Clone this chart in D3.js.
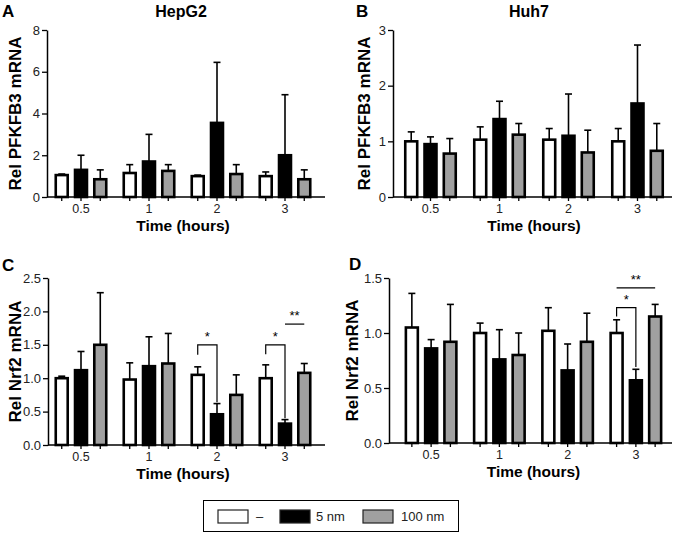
<!DOCTYPE html>
<html><head><meta charset="utf-8">
<script src="https://cdn.jsdelivr.net/npm/d3@7"></script>
<style>body{margin:0;background:#fff}svg{display:block}text{font-family:"Liberation Sans",Arial,sans-serif}</style>
</head><body><svg id="c" width="673" height="533"></svg>
<script>
const groups = ["0.5","1","2","3"];
const seriesNames = ["–","5 nm","100 nm"];
const seriesColors = ["#ffffff","#000000","#a0a0a0"];
// means [group][series]
const hepg2Mean = [[1.05,1.3,0.85],[1.15,1.7,1.25],[1.0,3.55,1.1],[1.0,2.0,0.85]];
const hepg2Upper = [[1.1,2.0,1.3],[1.55,3.0,1.55],[1.05,6.45,1.55],[1.2,4.9,1.3]];
const huh7Mean = [[1.0,0.95,0.78],[1.03,1.4,1.12],[1.03,1.1,0.8],[1.0,1.68,0.83]];
const huh7Upper = [[1.17,1.08,1.05],[1.26,1.72,1.32],[1.23,1.85,1.2],[1.23,2.73,1.32]];
const nrf2HepMean = [[1.0,1.12,1.5],[0.98,1.18,1.22],[1.05,0.46,0.75],[1.0,0.32,1.08]];
const nrf2HepUpper = [[1.03,1.4,2.28],[1.23,1.62,1.67],[1.17,0.62,1.05],[1.2,0.38,1.22]];
const nrf2HuhMean = [[1.05,0.86,0.92],[1.0,0.76,0.8],[1.02,0.66,0.92],[1.0,0.57,1.15]];
const nrf2HuhUpper = [[1.36,0.94,1.26],[1.09,1.03,1.0],[1.23,0.9,1.18],[1.12,0.67,1.26]];
const ticksA = [0,2,4,6,8];
const ticksB = [0,1,2,3];
const ticksC = [0,0.5,1.0,1.5,2.0,2.5];
const ticksD = [0,0.5,1.0,1.5];

const svg = d3.select("#c");

const panels = [
  {letter:"A", title:"HepG2", ylab:"Rel PFKFB3 mRNA", mean:hepg2Mean, upper:hepg2Upper, ticks:ticksA, fmt:d3.format("d"), max:8,
   ax:47, xr:[47,319], xend:325, yr:[197,30], lx:2, ly:17, tx:181, ty:17, ylx:15},
  {letter:"B", title:"Huh7", ylab:"Rel PFKFB3 mRNA", mean:huh7Mean, upper:huh7Upper, ticks:ticksB, fmt:d3.format("d"), max:3,
   ax:393, xr:[396,672], xend:672, yr:[197,30], lx:356, ly:17, tx:529, ty:17, ylx:364},
  {letter:"C", title:null, ylab:"Rel Nrf2 mRNA", mean:nrf2HepMean, upper:nrf2HepUpper, ticks:ticksC, fmt:d3.format(".1f"), max:2.5,
   ax:48, xr:[47,319], xend:325, yr:[445,278], lx:2, ly:271, ylx:15,
   sig:[{a:0,b:1,g:2,y:1.5,ly:1.35,ry:0.64,label:"*"},{a:0,b:1,g:3,y:1.5,ly:1.36,ry:0.4,label:"*"},{a:1,b:2,g:3,y:1.81,label:"**",line:true}]},
  {letter:"D", title:null, ylab:"Rel Nrf2 mRNA", mean:nrf2HuhMean, upper:nrf2HuhUpper, ticks:ticksD, fmt:d3.format(".1f"), max:1.5,
   ax:389, xr:[397,670], xend:672, yr:[443,278], lx:349, ly:270, ylx:352,
   sig:[{a:0,b:1,g:3,y:1.23,ly:1.15,ry:0.69,label:"*"},{a:0,b:2,g:3,y:1.41,label:"**",line:true}]}
];

panels.forEach(p => {
  const g = svg.append("g");
  const x = d3.scaleBand().domain(groups).range(p.xr).paddingInner(0).paddingOuter(0);
  const xi = d3.scaleBand().domain(d3.range(3)).range([-26.5,26.5]).paddingInner(0.25).paddingOuter(0);
  const y = d3.scaleLinear().domain([0,p.max]).range(p.yr);
  const cx = (gi, si) => x(groups[gi]) + x.bandwidth()/2 + xi(si) + xi.bandwidth()/2;

  // bars
  groups.forEach((gr, gi) => {
    d3.range(3).forEach(si => {
      const xc = cx(gi, si);
      const bw = xi.bandwidth();
      const v = p.mean[gi][si], u = p.upper[gi][si];
      g.append("line").attr("x1",xc).attr("x2",xc).attr("y1",y(v)).attr("y2",y(u)).attr("stroke","#000").attr("stroke-width",1.6);
      g.append("line").attr("x1",xc-3.5).attr("x2",xc+3.5).attr("y1",y(u)).attr("y2",y(u)).attr("stroke","#000").attr("stroke-width",1.6);
      g.append("rect").attr("x",xc-bw/2+1.25).attr("y",y(v)).attr("width",bw-2.5).attr("height",y(0)-y(v))
        .attr("fill",seriesColors[si]).attr("stroke","#000").attr("stroke-width",2.6);
    });
  });

  // y axis
  const yAxis = d3.axisLeft(y).tickValues(p.ticks).tickFormat(p.fmt).tickSize(5).tickSizeOuter(0);
  const ya = g.append("g").attr("transform",`translate(${p.ax},0)`).call(yAxis);
  ya.select(".domain").attr("stroke-width",1.5);
  ya.selectAll(".tick line").attr("stroke-width",1.3);
  ya.selectAll(".tick text").attr("font-size",13).attr("font-family","Liberation Sans, Arial, sans-serif").attr("fill","#222").attr("x",-7);

  // x axis line
  g.append("line").attr("x1",p.ax).attr("x2",p.xend).attr("y1",y(0)).attr("y2",y(0)).attr("stroke","#000").attr("stroke-width",1.6);
  groups.forEach((gr, gi) => {
    d3.range(3).forEach(si => {
      const xc = cx(gi, si);
      g.append("line").attr("x1",xc).attr("x2",xc).attr("y1",y(0)).attr("y2",y(0)+4).attr("stroke","#000").attr("stroke-width",1.3);
    });
    g.append("text").attr("x",cx(gi,1)).attr("y",y(0)+16).attr("text-anchor","middle").attr("font-size",12.5).attr("fill","#222").text(gr);
  });
  g.append("text").attr("x",(p.xr[0]+p.xr[1])/2).attr("y",y(0)+34).attr("text-anchor","middle").attr("font-size",15.5).attr("font-weight","bold").text("Time (hours)");

  // y label
  g.append("text").attr("transform",`translate(${p.ylx},${(p.yr[0]+p.yr[1])/2}) rotate(-90)`).attr("text-anchor","middle")
    .attr("dominant-baseline","central").attr("font-size",17).attr("font-weight","bold").text(p.ylab);

  // letter & title
  g.append("text").attr("x",p.lx).attr("y",p.ly).attr("font-size",17).attr("font-weight","bold").text(p.letter);
  if (p.title) g.append("text").attr("x",p.tx).attr("y",p.ty).attr("text-anchor","middle").attr("font-size",16).attr("font-weight","bold").text(p.title);

  // significance
  (p.sig||[]).forEach(s => {
    const xa = cx(s.g, s.a), xb = cx(s.g, s.b);
    const yy = y(s.y);
    if (s.line) {
      g.append("line").attr("x1",xa).attr("x2",xb).attr("y1",yy).attr("y2",yy).attr("stroke","#000").attr("stroke-width",1.2);
    } else {
      g.append("path").attr("d",`M${xa},${y(s.ly)}V${yy}H${xb}V${y(s.ry)}`).attr("fill","none").attr("stroke","#000").attr("stroke-width",1.2);
    }
    g.append("text").attr("x",(xa+xb)/2).attr("y",yy-4).attr("text-anchor","middle").attr("font-size",13).text(s.label);
  });
});

// legend
const lg = svg.append("g");
lg.append("rect").attr("x",203.5).attr("y",500.5).attr("width",255).attr("height",31).attr("fill","#fff").attr("stroke","#000").attr("stroke-width",1);
const legX = [218, 280, 363];
const legTextX = [256, 316, 401];
seriesNames.forEach((n,i) => {
  lg.append("rect").attr("x",legX[i]).attr("y",510).attr("width",30).attr("height",13).attr("fill",seriesColors[i]).attr("stroke","#222").attr("stroke-width",1.2);
  lg.append("text").attr("x",legTextX[i]).attr("y",521).attr("font-size",13).attr("fill","#222").text(n);
});
</script></body></html>
